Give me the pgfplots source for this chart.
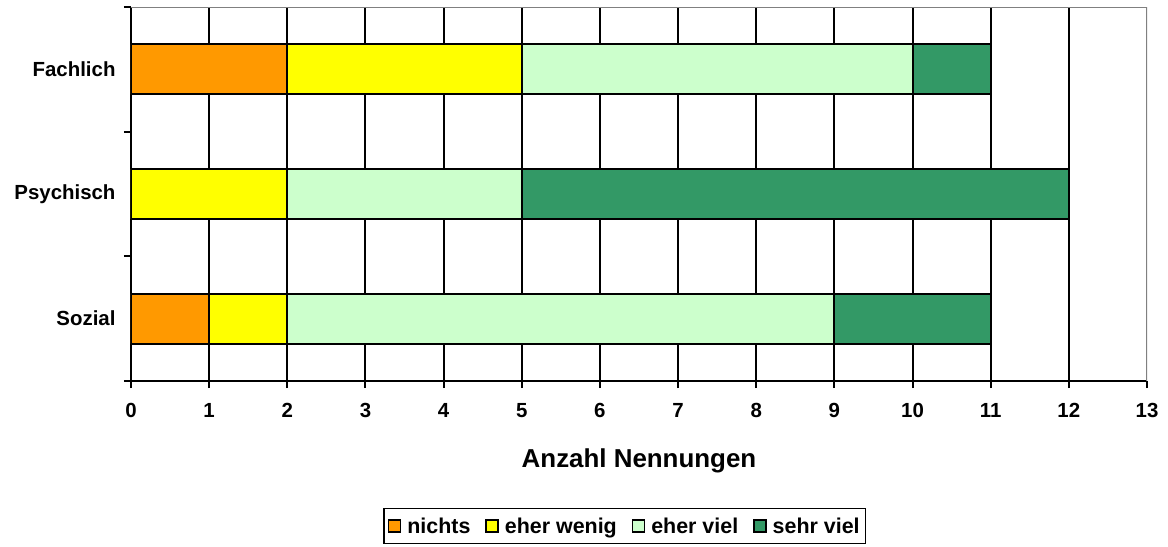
\documentclass[border=0pt]{standalone}
\usepackage{pgfplots}
\pgfplotsset{compat=1.18}
\usepackage{fontspec}
\setmainfont{Liberation Sans}
\definecolor{cnichts}{HTML}{FF9900}
\definecolor{cwenig}{HTML}{FFFF00}
\definecolor{cviel}{HTML}{CCFFCC}
\definecolor{csehr}{HTML}{339966}
\begin{document}
\begin{tikzpicture}
\begin{axis}[
  scale only axis,
  width=1016bp, height=374bp,
  xbar stacked,
  bar width=0.4,
  xmin=0, xmax=13, ymin=0.5, ymax=3.5,
  xtick={0,1,...,12},
  extra x ticks={13},
  extra x tick style={grid=none},
  ytick={0.5,1.5,2.5,3.5},
  yticklabels={},
  extra y ticks={1,2,3},
  extra y tick labels={Sozial,Psychisch,Fachlich},
  extra y tick style={major tick length=0pt},
  xtick pos=left, ytick pos=left,
  major tick length=7bp,
  tick align=outside,
  tick style={black, line width=2bp},
  xmajorgrids,
  grid style={black, line width=2bp},
  axis line style={draw=none},
  /pgf/number format/assume math mode=true,
  tick label style={font=\fontsize{20.5}{24}\selectfont\bfseries},
  yticklabel style={xshift=-12bp},
  xticklabel style={yshift=-12bp},
  xlabel={Anzahl Nennungen},
  xlabel style={font=\fontsize{26}{30}\selectfont\bfseries, at={(axis description cs:0.5,-0.213)}, anchor=center},
  legend columns=4,
  legend style={at={(0.486,-0.388)}, anchor=center, draw=black, line width=1.5bp,
    font=\fontsize{21.5}{24}\selectfont\bfseries, inner xsep=4bp, inner ysep=7bp,
    /tikz/every odd column/.append style={column sep=4bp},
    /tikz/every even column/.append style={column sep=13bp}},
  legend image code/.code={\draw[#1, line width=1.5bp] (0bp,-6bp) rectangle (12bp,6bp);},
  every axis plot/.append style={draw=black, line width=2bp},
]
\addplot[fill=cnichts] coordinates {(1,1) (0,2) (2,3)};
\addplot[fill=cwenig] coordinates {(1,1) (2,2) (3,3)};
\addplot[fill=cviel] coordinates {(7,1) (3,2) (5,3)};
\addplot[fill=csehr] coordinates {(2,1) (7,2) (1,3)};
\legend{nichts,eher wenig,eher viel,sehr viel}
\draw[gray, line width=2.5bp] (rel axis cs:0,1) -- (rel axis cs:1,1) -- (rel axis cs:1,0);
\draw[black, line width=2bp] (rel axis cs:0,1) -- (rel axis cs:0,0) -- (rel axis cs:1,0);
\coordinate (sw) at (rel axis cs:0,0);
\coordinate (ne) at (rel axis cs:1,1);
\end{axis}
\pgfresetboundingbox
\path[use as bounding box] ([xshift=-131bp,yshift=-166bp]sw) rectangle ([xshift=21bp,yshift=7bp]ne);
\end{tikzpicture}
\end{document}
